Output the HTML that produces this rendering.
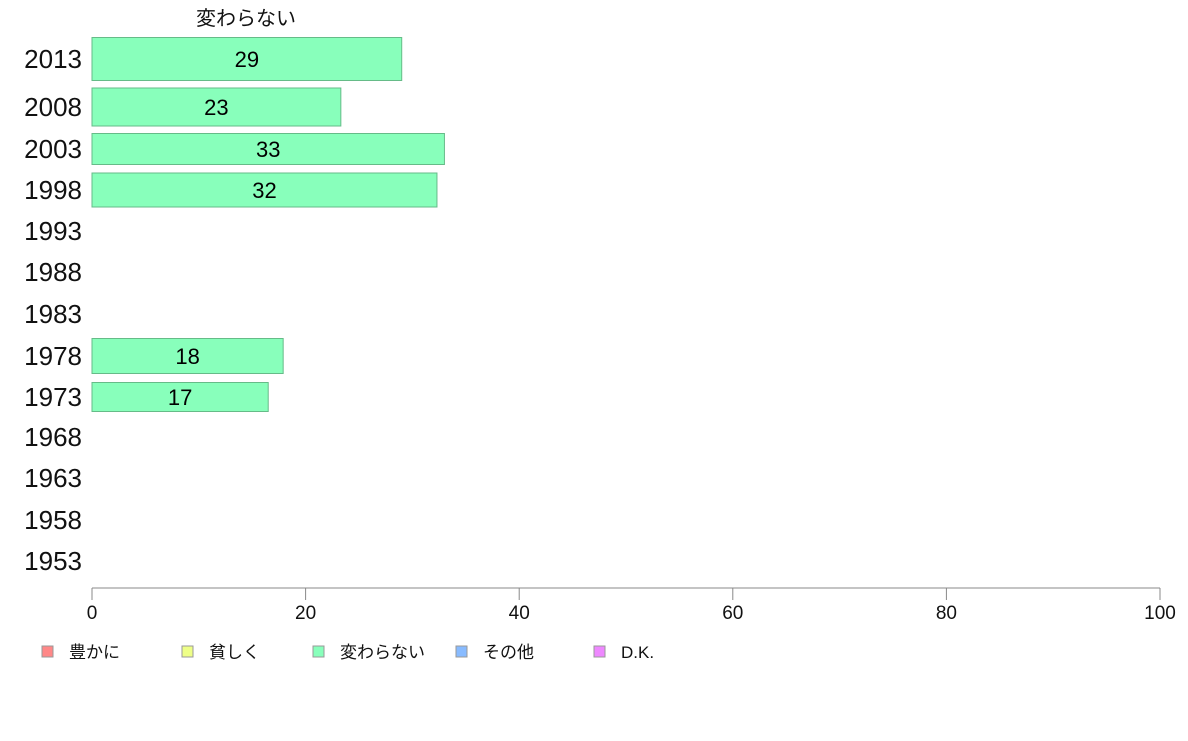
<!DOCTYPE html>
<html><head><meta charset="utf-8"><style>
body{margin:0;background:#fff;width:1188px;height:736px;overflow:hidden;font-family:"Liberation Sans","Noto Sans CJK JP",sans-serif}
</style></head><body>
<svg id="chart" width="1188" height="736" xmlns="http://www.w3.org/2000/svg" font-family="Liberation Sans, Noto Sans CJK JP, sans-serif">
<text x="246" y="25" font-size="20" text-anchor="middle" fill="#111">変わらない</text>
<g id="bars"></g>
<g id="axis"></g>
<g id="legend"></g>
</svg>
<script>
const years=["2013","2008","2003","1998","1993","1988","1983","1978","1973","1968","1963","1958","1953"];
const values=[29,23.3,33,32.3,null,null,null,17.9,16.5,null,null,null,null];
const labels=["29","23","33","32","","","","18","17","","","",""];
const rowCenters=[59,107,149,190,231,272,314,356,397,437,478,520,561];
const rowHeights=[43,38,31,34,0,0,0,35,29,0,0,0,0];
const ticks=[0,20,40,60,80,100];
const legendNames=["豊かに","貧しく","変わらない","その他","D.K."];
const legendColors=["#ff8888","#eeff88","#88ffbb","#88bbff","#ee88ff"];
const NS="http://www.w3.org/2000/svg";
const x=v=>92+v*10.68;
function mk(t,a,p){const e=document.createElementNS(NS,t);for(const k in a)e.setAttribute(k,a[k]);p.appendChild(e);return e;}
const bars=document.getElementById('bars');
years.forEach((y,i)=>{
  const t=mk('text',{x:82,y:rowCenters[i]+9,'font-size':26,'text-anchor':'end',fill:'#111'},bars);
  t.textContent=y;
  
  
  if(values[i]!=null){
    const h=rowHeights[i];
    const r=mk('rect',{x:92,y:rowCenters[i]-h/2,width:x(values[i])-92,height:h,fill:'#88ffbb',stroke:'#66bb88','stroke-width':1},bars);
    
    
    const v=mk('text',{x:(92+x(values[i]))/2,y:rowCenters[i]+8,'font-size':22,'text-anchor':'middle',fill:'#000'},bars);
    v.textContent=labels[i];
    
    
  }
});
const ax=document.getElementById('axis');
const line=mk('line',{x1:92,x2:1160,y1:588,y2:588,stroke:'#888'},ax);


ticks.forEach(t=>{
  mk('line',{x1:x(t),x2:x(t),y1:588,y2:600,stroke:'#888'},ax);
  const l=mk('text',{x:x(t),y:619,'font-size':19,'text-anchor':'middle',fill:'#111'},ax);
  l.textContent=t;
  
  
});
const lg=document.getElementById('legend');
const lx=[42,182,313,456,594];
legendNames.forEach((n,i)=>{
  const r=mk('rect',{x:lx[i],y:646,width:11,height:11,fill:legendColors[i],stroke:'#999'},lg);
  
  
  const t=mk('text',{x:lx[i]+27,y:658,'font-size':17,fill:'#111'},lg);
  t.textContent=n;
  
  
});
</script>
</body></html>
